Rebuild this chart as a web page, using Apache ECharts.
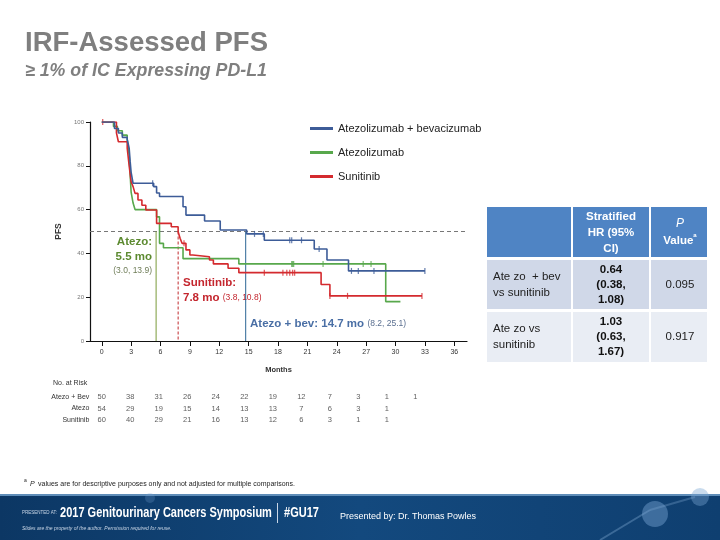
<!DOCTYPE html>
<html lang="en">
<head>
<meta charset="utf-8">
<title>IRF-Assessed PFS</title>
<style>
  html, body { margin: 0; height: 100%; background: #fff; }
  #chart { width: 720px; height: 540px; }
</style>
</head>
<body>
<div id="chart"></div>
<script src="https://cdn.jsdelivr.net/npm/echarts@6/dist/echarts.min.js"></script>
<script>
// KM curves: [month, % progression-free]
var atezoBev = [[0,100],[1.3,97],[1.7,95],[2.1,93],[2.6,92],[2.8,88],[2.9,82],[3.0,77],[3.2,72],
  [5.3,70.5],[5.6,67.6],[5.9,66],[8.3,61.3],[8.6,57.5],[10.5,54.8],[12.1,50.7],[14.8,48.9],
  [16.6,46],[21.7,42],[23.0,37],[25.2,32],[33.0,32]];
var atezo = [[0,100],[1.2,98],[1.6,96],[2.1,94],[2.6,92],[2.8,85],[2.9,76],[3.0,68],[3.2,63],
  [3.4,60],[5.6,56.7],[5.9,44.6],[6.3,42.6],[8.3,37.6],[14.0,35.2],[29.0,18],[30.5,18]];
var sunitinib = [[0,100],[1.5,95],[1.7,91],[2.6,88],[2.8,80],[3.0,72.7],[3.2,70.5],[3.4,67.4],
  [3.7,64.4],[4.1,62],[4.5,59.8],[5.6,53.7],[7.1,52.2],[7.8,49.9],[8.0,46.9],[8.2,44.6],
  [8.6,41.6],[9.0,39.3],[9.3,38.5],[11.0,37],[11.4,35.2],[12.9,33.2],[14.0,31.2],[22.4,25.8],
  [23.3,20.6],[32.7,20.6]];

// censored observations
var censorBev = [[5.2,72],[15.6,48.9],[16.5,48.9],[19.2,46],[19.4,46],[20.4,46],[22.2,42],
  [25.5,32],[26.2,32],[27.8,32],[33.0,32]];
var censorAtezo = [[19.4,35.2],[19.5,35.2],[19.6,35.2],[22.6,35.2],[26.7,35.2],[27.5,35.2]];
var censorSun = [[0.1,100],[8.4,44.6],[16.6,31.2],[18.5,31.2],[18.9,31.2],[19.2,31.2],
  [19.5,31.2],[19.7,31.2],[23.3,20.6],[25.1,20.6],[32.7,20.6]];

// medians (months)
var medianBev = 14.7;
var medianAtezo = 5.55;
var medianSun = 7.8;

var monthTicks = [0, 3, 6, 9, 12, 15, 18, 21, 24, 27, 30, 33, 36];

// numbers at risk
var riskRows = ['Atezo + Bev', 'Atezo', 'Sunitinib'];
var riskMonths = [0, 3, 6, 9, 12, 15, 18, 21, 24, 27, 30, 33];
var riskBev = [50, 38, 31, 26, 24, 22, 19, 12, 7, 3, 1, 1];
var riskAtezo = [54, 29, 19, 15, 14, 13, 13, 7, 6, 3, 1];
var riskSun = [60, 40, 29, 21, 16, 13, 12, 6, 3, 1, 1];

var FONT = '"Liberation Sans", Arial, sans-serif';
var C_BEV = '#3d5c98', C_ATEZO = '#58a84c', C_SUN = '#d42a2e';

function riskPoints(row, values) {
  return values.map(function (v, i) { return [riskMonths[i], row, v]; });
}
var riskData = riskPoints(riskRows[0], riskBev)
  .concat(riskPoints(riskRows[1], riskAtezo))
  .concat(riskPoints(riskRows[2], riskSun));

function censorSeries(data, color) {
  return {
    type: 'scatter', data: data, symbol: 'rect', symbolSize: [1.2, 6],
    itemStyle: { color: color }, silent: true, z: 4
  };
}
function vline(m, color, type) {
  return {
    type: 'line', data: [[m, 50], [m, 0]], symbol: 'none', silent: true,
    lineStyle: { color: color, width: 1, type: type }, z: 3
  };
}

var myChart = echarts.init(document.getElementById('chart'), null, { renderer: 'canvas' });

var option = {
  animation: false,
  textStyle: { fontFamily: FONT },
  legend: {
    data: [
      { name: 'Atezolizumab + bevacizumab', icon: 'rect' },
      { name: 'Atezolizumab', icon: 'rect' },
      { name: 'Sunitinib', icon: 'rect' }
    ],
    orient: 'vertical', left: 305, top: 118,
    itemWidth: 23, itemHeight: 3, itemGap: 13,
    textStyle: { fontSize: 11, color: '#222', fontFamily: FONT }
  },
  grid: [
    { left: 90, top: 122, width: 377, height: 219 },
    { left: 90.3, top: 391, width: 366, height: 35 }
  ],
  xAxis: [{
    gridIndex: 0, type: 'value', min: -1.2, max: 37.3,
    axisLine: { show: true, onZero: false, lineStyle: { color: '#111', width: 1.2 } },
    axisTick: { show: true, customValues: monthTicks, length: 5, lineStyle: { color: '#111' } },
    axisLabel: { customValues: monthTicks, fontSize: 7, color: '#333', margin: 8 },
    splitLine: { show: false },
    name: 'Months', nameLocation: 'middle', nameGap: 25,
    nameTextStyle: { fontSize: 7.5, fontWeight: 'bold', color: '#333' }
  }, {
    gridIndex: 1, type: 'value', min: -1.2, max: 37.3, show: false
  }],
  yAxis: [{
    gridIndex: 0, type: 'value', min: 0, max: 100, interval: 20,
    axisLine: { show: true, onZero: false, lineStyle: { color: '#111', width: 1.2 } },
    axisTick: { show: true, length: 4, lineStyle: { color: '#111' } },
    axisLabel: { fontSize: 6, color: '#777', margin: 6 },
    splitLine: { show: false },
    name: 'PFS', nameLocation: 'middle', nameGap: 22,
    nameTextStyle: { fontSize: 8.5, fontWeight: 'bold', color: '#333' }
  }, {
    gridIndex: 1, type: 'category', data: riskRows, inverse: true,
    axisLine: { show: false }, axisTick: { show: false },
    axisLabel: { fontSize: 7, color: '#333', margin: 1 }
  }],
  series: [
    {
      type: 'line', silent: true, symbol: 'none', clip: false,
      data: [[-1.2, 50], [38, 50]],
      lineStyle: { color: '#777', width: 1, type: [4, 3] }, z: 1
    },
    vline(medianAtezo, '#7a9a3a', 'solid'),
    vline(medianSun, '#c0282c', [3, 2]),
    vline(medianBev, '#2c6694', 'solid'),
    {
      name: 'Atezolizumab', type: 'line', step: 'end', data: atezo, symbol: 'none',
      color: C_ATEZO, lineStyle: { width: 1.6, color: C_ATEZO }, z: 5
    },
    {
      name: 'Sunitinib', type: 'line', step: 'end', data: sunitinib, symbol: 'none',
      color: C_SUN, lineStyle: { width: 1.6, color: C_SUN }, z: 6
    },
    {
      name: 'Atezolizumab + bevacizumab', type: 'line', step: 'end', data: atezoBev, symbol: 'none',
      color: C_BEV, lineStyle: { width: 1.6, color: C_BEV }, z: 7
    },
    censorSeries(censorAtezo, C_ATEZO),
    censorSeries(censorSun, C_SUN),
    censorSeries(censorBev, C_BEV),
    {
      type: 'scatter', xAxisIndex: 1, yAxisIndex: 1, data: riskData,
      symbolSize: 1, itemStyle: { color: 'rgba(0,0,0,0)' }, silent: true,
      label: {
        show: true, position: 'inside', fontSize: 7.5, color: '#333',
        formatter: function (p) { return p.value[2]; }
      }
    }
  ],
  graphic: [
    // titles
    { type: 'text', style: { x: 25, y: 43, text: 'IRF-Assessed PFS', fill: '#7f7f7f',
      font: 'bold 27.5px ' + FONT, verticalAlign: 'middle' } },
    { type: 'text', style: { x: 25, y: 71, text: '\u2265 1% of IC Expressing PD-L1', fill: '#7f7f7f',
      font: 'italic bold 17.8px ' + FONT, verticalAlign: 'middle' } },

    // median annotations
    { type: 'text', style: { x: 152, y: 242, text: 'Atezo:', fill: '#5c8a30',
      font: 'bold 11.5px ' + FONT, align: 'right', verticalAlign: 'middle' } },
    { type: 'text', style: { x: 152, y: 257, text: '5.5 mo', fill: '#5c8a30',
      font: 'bold 11.5px ' + FONT, align: 'right', verticalAlign: 'middle' } },
    { type: 'text', style: { x: 152, y: 271, text: '(3.0, 13.9)', fill: '#6f7d58',
      font: '8.5px ' + FONT, align: 'right', verticalAlign: 'middle' } },
    { type: 'text', style: { x: 183, y: 283, text: 'Sunitinib:', fill: '#c4262e',
      font: 'bold 11.5px ' + FONT, verticalAlign: 'middle' } },
    { type: 'text', style: { x: 183, y: 298, text: '{b|7.8 mo} {s|(3.8, 10.8)}', verticalAlign: 'middle',
      rich: { b: { fill: '#c4262e', font: 'bold 11.5px ' + FONT }, s: { fill: '#c4262e', font: '8.5px ' + FONT } } } },
    { type: 'text', style: { x: 250, y: 324, text: '{b|Atezo + bev: 14.7 mo} {s|(8.2, 25.1)}', verticalAlign: 'middle',
      rich: { b: { fill: '#4a6fa5', font: 'bold 11.5px ' + FONT }, s: { fill: '#5a6f90', font: '8.5px ' + FONT } } } },

    // at risk header
    { type: 'text', style: { x: 53, y: 383, text: 'No. at Risk', fill: '#333',
      font: '7px ' + FONT, verticalAlign: 'middle' } },

    // HR table
    { type: 'rect', shape: { x: 487, y: 207, width: 84, height: 50 }, style: { fill: '#4f84c4' } },
    { type: 'rect', shape: { x: 573, y: 207, width: 76, height: 50 }, style: { fill: '#4f84c4' } },
    { type: 'rect', shape: { x: 651, y: 207, width: 56, height: 50 }, style: { fill: '#4f84c4' } },
    { type: 'rect', shape: { x: 487, y: 260, width: 84, height: 49 }, style: { fill: '#d0d8e8' } },
    { type: 'rect', shape: { x: 573, y: 260, width: 76, height: 49 }, style: { fill: '#d0d8e8' } },
    { type: 'rect', shape: { x: 651, y: 260, width: 56, height: 49 }, style: { fill: '#d0d8e8' } },
    { type: 'rect', shape: { x: 487, y: 312, width: 84, height: 50 }, style: { fill: '#e9edf4' } },
    { type: 'rect', shape: { x: 573, y: 312, width: 76, height: 50 }, style: { fill: '#e9edf4' } },
    { type: 'rect', shape: { x: 651, y: 312, width: 56, height: 50 }, style: { fill: '#e9edf4' } },
    { type: 'text', style: { x: 611, y: 233, text: 'Stratified\nHR (95%\nCI)', fill: '#fff',
      font: 'bold 11.5px ' + FONT, align: 'center', verticalAlign: 'middle', lineHeight: 16 } },
    { type: 'text', style: { x: 680, y: 232, text: '{i|P}\n{n|Value}{s|a}', align: 'center', verticalAlign: 'middle',
      rich: { i: { fill: '#fff', font: 'italic 12px ' + FONT, lineHeight: 17, align: 'center' },
        n: { fill: '#fff', font: 'bold 11.5px ' + FONT, lineHeight: 17 },
        s: { fill: '#fff', font: 'bold 6px ' + FONT, verticalAlign: 'top' } } } },
    { type: 'text', style: { x: 493, y: 285, text: 'Ate zo  + bev\nvs sunitinib', fill: '#222',
      font: '11.5px ' + FONT, verticalAlign: 'middle', lineHeight: 16 } },
    { type: 'text', style: { x: 611, y: 285, text: '0.64\n(0.38,\n1.08)', fill: '#111',
      font: 'bold 11.5px ' + FONT, align: 'center', verticalAlign: 'middle', lineHeight: 15 } },
    { type: 'text', style: { x: 680, y: 285, text: '0.095', fill: '#222',
      font: '11.5px ' + FONT, align: 'center', verticalAlign: 'middle' } },
    { type: 'text', style: { x: 493, y: 337, text: 'Ate zo vs\nsunitinib', fill: '#222',
      font: '11.5px ' + FONT, verticalAlign: 'middle', lineHeight: 16 } },
    { type: 'text', style: { x: 611, y: 337, text: '1.03\n(0.63,\n1.67)', fill: '#111',
      font: 'bold 11.5px ' + FONT, align: 'center', verticalAlign: 'middle', lineHeight: 15 } },
    { type: 'text', style: { x: 680, y: 337, text: '0.917', fill: '#222',
      font: '11.5px ' + FONT, align: 'center', verticalAlign: 'middle' } },

    // footnote
    { type: 'text', style: { x: 24, y: 484, verticalAlign: 'middle',
      text: '{s|a} {i|P} {t|values are for descriptive purposes only and not adjusted for multiple comparisons.}',
      rich: { s: { fill: '#222', font: '5px ' + FONT, verticalAlign: 'top' },
        i: { fill: '#222', font: 'italic 7px ' + FONT },
        t: { fill: '#222', font: '7px ' + FONT } } } },

    // footer band
    { type: 'rect', shape: { x: 0, y: 495, width: 720, height: 45 },
      style: { fill: new echarts.graphic.LinearGradient(0, 0, 1, 0, [
        { offset: 0, color: '#0c3764' }, { offset: 0.5, color: '#13497e' }, { offset: 1, color: '#0f3f70' }]) } },
    { type: 'rect', shape: { x: 0, y: 494, width: 720, height: 2 }, style: { fill: '#5f8db8' } },
    { type: 'line', shape: { x1: 600, y1: 540, x2: 650, y2: 510 }, style: { stroke: 'rgba(140,180,220,0.35)', lineWidth: 2 } },
    { type: 'line', shape: { x1: 650, y1: 510, x2: 695, y2: 497 }, style: { stroke: 'rgba(140,180,220,0.3)', lineWidth: 2 } },
    { type: 'circle', shape: { cx: 655, cy: 514, r: 13 }, style: { fill: 'rgba(120,165,210,0.45)' } },
    { type: 'circle', shape: { cx: 700, cy: 497, r: 9 }, style: { fill: 'rgba(120,165,210,0.4)' } },
    { type: 'circle', shape: { cx: 150, cy: 498, r: 5 }, style: { fill: 'rgba(120,165,210,0.25)' } },
    { type: 'text', style: { x: 22, y: 513, text: 'PRESENTED AT:', fill: '#c9d6e6',
      font: '4.5px ' + FONT, verticalAlign: 'middle' } },
    { type: 'text', x: 60, y: 513, scaleX: 0.76, style: { x: 0, y: 0, text: '2017 Genitourinary Cancers Symposium', fill: '#fff',
      font: 'bold 14.5px ' + FONT, verticalAlign: 'middle' } },
    { type: 'rect', shape: { x: 277, y: 503, width: 1, height: 20 }, style: { fill: '#c9d6e6' } },
    { type: 'text', x: 284, y: 513, scaleX: 0.76, style: { x: 0, y: 0, text: '#GU17', fill: '#fff',
      font: 'bold 14.5px ' + FONT, verticalAlign: 'middle' } },
    { type: 'text', style: { x: 340, y: 517, text: 'Presented by: Dr. Thomas Powles', fill: '#fff',
      font: '9px ' + FONT, verticalAlign: 'middle' } },
    { type: 'text', style: { x: 22, y: 529, text: 'Slides are the property of the author. Permission required for reuse.',
      fill: '#c9d6e6', font: 'italic 5px ' + FONT, verticalAlign: 'middle' } }
  ]
};

myChart.setOption(option);
window.addEventListener('resize', myChart.resize);
</script>
</body>
</html>
